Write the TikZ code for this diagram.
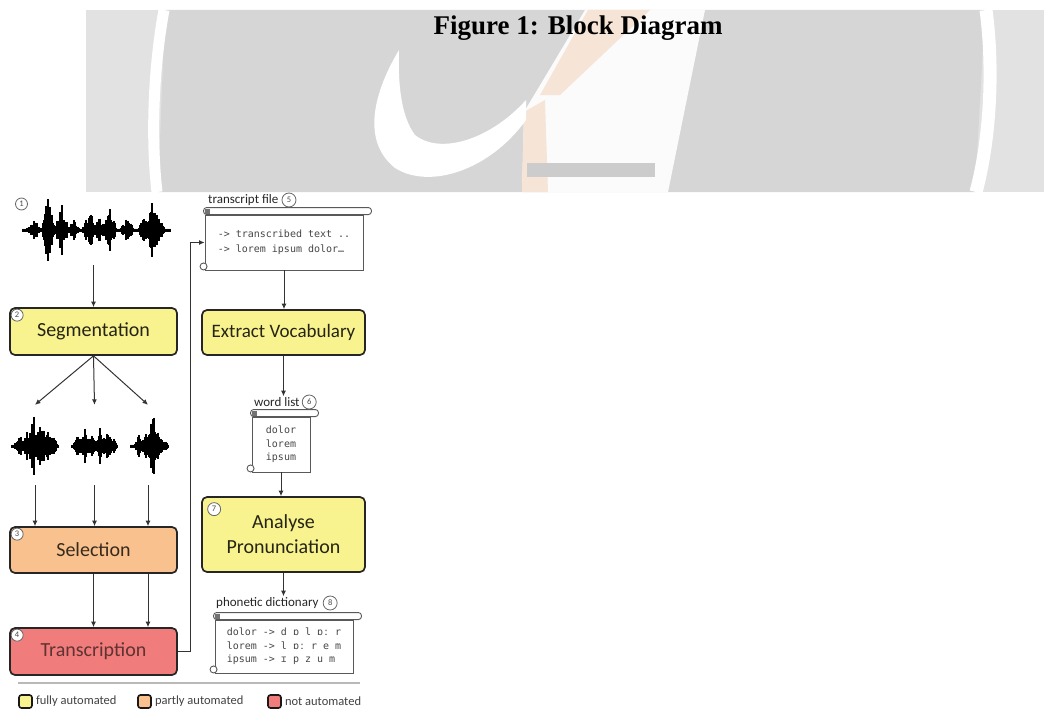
\documentclass[tikz,border=0pt]{standalone}
\usepackage{fontspec}
\setmainfont{Carlito}
\setmonofont{DejaVu Sans Mono}
\newfontfamily\titlefont{Liberation Serif}
\usepackage{xcolor}
\usepackage{tikz}
\usetikzlibrary{calc}
\usetikzlibrary{positioning,arrows.meta}

\definecolor{fullyc}{HTML}{F8F38E}
\definecolor{partlyc}{HTML}{F8C18D}
\definecolor{notc}{HTML}{F07C7C}
\definecolor{wmgray}{HTML}{D6D6D6}
\definecolor{wmlight}{HTML}{E2E2E2}
\definecolor{wmpeach}{HTML}{F6E4D6}

% speech signal: x from, x to, centre y, envelope in \xx
\newcommand{\speechwave}[4]{%
    \draw[line width=0.6pt] (#1,#3) -- (#2,#3);
    \foreach \xx in {#1,...,#2}{
        \pgfmathsetmacro{\amp}{1.5+(#4)*(0.3+0.7*rnd)}
        \draw[line width=1.2pt] (\xx,#3-\amp) -- (\xx,#3+\amp);
    }
}

% roll and curls of a file scroll
\newcommand{\scrollroll}[1]{%
    \draw[scrollline, fill=white, rounded corners=3pt] ($(#1.north west)+(-1,-7)$) rectangle ($(#1.north east)+(8,0)$);
    \fill[black!55] ($(#1.north west)+(0,-6)$) rectangle ++(5,5);
    \draw[scrollline, fill=white] ($(#1.south west)+(-1,-4)$) circle (3.5);
}

\begin{document}
\begin{tikzpicture}[x=1pt, y=-1pt,
        declare function={burst(\p,\c,\w,\a)=\a*max(0,1-abs(\p-\c)/\w);},
        stage/.style={draw=black!85, line width=1.7pt, rounded corners=5pt, minimum width=167pt,
            minimum height=47pt, inner sep=2pt, align=center, font=\fontsize{20}{25}\selectfont},
        fullybox/.style={stage, fill=fullyc, text=fullyc!15!black},
        partlybox/.style={stage, fill=partlyc, text=partlyc!22!black},
        notbox/.style={stage, fill=notc, text=notc!40!black},
        numcirc/.style={circle, draw=black!60, fill=white, line width=0.8pt, inner sep=0pt,
            minimum size=12pt, font=\fontsize{8.5}{8.5}\selectfont, text=black!70},
        scrollline/.style={draw=black!65, line width=0.9pt},
        scrollbox/.style={scrollline, fill=white, inner sep=0pt, align=left,
            font=\ttfamily\fontsize{10}{15}\selectfont, text=black!72},
        filelbl/.style={inner sep=1pt, font=\fontsize{13}{13}\selectfont, text=black!85},
        wavebox/.style={inner sep=0pt},
        flow/.style={draw=black!80, line width=1pt, -{Latex[length=5.5pt,width=5pt]}},
        legendsq/.style={draw=black!90, line width=1.6pt, rounded corners=2.5pt, minimum size=13pt, inner sep=0pt},
        legendtxt/.style={inner sep=1pt, font=\fontsize{12.5}{12.5}\selectfont, text=black!75}]
        \useasboundingbox (0,0) rectangle (1057,709);
        \pgfmathsetseed{17}

        %WATERMARK
        \begin{scope}
            \clip (0,10) rectangle (1057,192);
            \fill[wmlight] (86,10) rectangle (1044,192);
            \fill[wmgray] (165,10) -- (985,10) -- (975,192) -- (158,192) -- cycle;
            \draw[white, line width=11pt] (164,10) .. controls (153,70) and (151,140) .. (157,192);
            \draw[white, line width=13pt] (986,10) .. controls (994,70) and (990,140) .. (976,192);
            \fill[white!90!wmgray] (585,10) -- (705,10) -- (668,192) -- (522,192) -- (524,112) -- cycle;
            \fill[wmpeach] (588,10) -- (650,10) -- (560,95) -- (540,95) -- cycle;
            \fill[wmpeach] (524,112) -- (545,100) -- (548,192) -- (522,192) -- cycle;
            \fill[white] (399,50) .. controls (375,90) and (360,140) .. (395,168)
                .. controls (430,190) and (490,170) .. (526,120) -- (526,100)
                .. controls (490,140) and (440,155) .. (415,135)
                .. controls (400,115) and (398,80) .. (399,50) -- cycle;
            \fill[gray!40] (527,163) rectangle (655,177);
        \end{scope}

        %TITLE
        \node[font=\titlefont\bfseries\fontsize{27}{30}\selectfont, anchor=base] (title) at (578,35) {Figure 1: Block Diagram};

        %SIGNALS
        \node[wavebox, minimum width=147pt, minimum height=70pt] (wave0) at (96,230) {};
        \speechwave{23}{170}{230}{burst(\xx,34,8,9)+burst(\xx,47,5,33)+burst(\xx,52,6,16)+burst(\xx,62,7,24)+burst(\xx,74,6,9)+burst(\xx,90,8,18)+burst(\xx,100,5,12)+burst(\xx,110,7,20)+burst(\xx,127,7,12)+burst(\xx,144,6,12)+burst(\xx,153,6,32)+burst(\xx,160,5,14)}
        \node[numcirc] (n1) at (21.5,204) {1};

        \node[wavebox, minimum width=46pt, minimum height=80pt] (wave1) at (35,445) {};
        \node[wavebox, minimum width=45pt, minimum height=80pt] (wave2) at (94.5,445) {};
        \node[wavebox, minimum width=40pt, minimum height=80pt] (wave3) at (148,445) {};
        \speechwave{12}{58}{446}{burst(\xx,20,6,10)+burst(\xx,27,4,14)+burst(\xx,33,4,38)+burst(\xx,40,5,22)+burst(\xx,47,6,18)+burst(\xx,54,4,8)}
        \speechwave{72}{117}{446}{burst(\xx,78,5,10)+burst(\xx,85,5,16)+burst(\xx,92,4,10)+burst(\xx,100,5,20)+burst(\xx,108,5,14)+burst(\xx,114,3,6)}
        \speechwave{131}{168}{446}{burst(\xx,139,5,10)+burst(\xx,146,4,12)+burst(\xx,153,5,36)+burst(\xx,159,4,18)+burst(\xx,165,3,6)}

        %STAGES
        \node[fullybox] (seg) at (93.5,331.5) {Segmentation};
        \node[partlybox, minimum height=46pt] (sel) at (93.5,550) {Selection};
        \node[notbox] (trn) at (93.5,651.5) {Transcription};
        \node[fullybox, minimum width=163pt, minimum height=45pt, font=\fontsize{19}{23}\selectfont] (ext) at (283.5,332.5) {Extract Vocabulary};
        \node[fullybox, minimum width=163pt, minimum height=75pt] (ana) at (283.5,534.5) {Analyse\\Pronunciation};
        \node[numcirc] (n2) at ($(seg.north west)+(8,8)$) {2};
        \node[numcirc] (n3) at ($(sel.north west)+(8,8)$) {3};
        \node[numcirc] (n4) at ($(trn.north west)+(8,8)$) {4};
        \node[numcirc, minimum size=13pt] (n7) at ($(ana.north west)+(13,13)$) {7};

        %FILES
        \node[scrollbox, minimum width=158pt, minimum height=55pt] (trans) at (284,242.5) {-> transcribed text ..\\-> lorem ipsum dolor\ldots};
        \scrollroll{trans}
        \node[filelbl, anchor=west] (translbl) at (207,200) {transcript file};
        \node[numcirc, minimum size=14pt, right=2pt of translbl] (n5) {5};

        \node[scrollbox, minimum width=58pt, minimum height=55pt, font=\ttfamily\fontsize{10}{13.5}\selectfont] (wlist) at (281,444.5) {dolor\\lorem\\ipsum};
        \scrollroll{wlist}
        \node[filelbl, anchor=west] (wlistlbl) at (253,402) {word list};
        \node[numcirc, minimum size=14pt, right=1pt of wlistlbl] (n6) {6};

        \node[scrollbox, minimum width=138pt, minimum height=53pt, font=\ttfamily\fontsize{10}{13.5}\selectfont] (dict) at (284,646.5) {dolor -> d ɒ l ɒː r\\lorem -> l ɒː r e m\\ipsum -> ɪ p z u m};
        \scrollroll{dict}
        \node[filelbl, anchor=west] (dictlbl) at (215,603) {phonetic dictionary};
        \node[numcirc, minimum size=14pt, right=3pt of dictlbl] (n8) {8};

        %ARROWS
        \draw[flow] (wave0.south -| seg.north) -- (seg.north);
        \foreach \w in {wave1,wave2,wave3} \draw[flow] (seg.south) -- (\w.north);
        \foreach \w in {wave1,wave2,wave3} \draw[flow] (\w.south) -- (\w.south |- sel.north);
        \draw[flow] (sel.south) -- (trn.north);
        \draw[flow] (wave3.south |- sel.south) -- (wave3.south |- trn.north);
        \draw[flow] (trn.east) -- ++(13,0) |- (trans.west);
        \draw[flow] (trans.south) -- (trans.south |- ext.north);
        \draw[flow] (ext.south) -- (ext.south |- wlistlbl.north);
        \draw[flow] (wlist.south) -- (wlist.south |- ana.north);
        \draw[flow] (ana.south) -- (ana.south |- dictlbl.north);

        %LEGEND
        \draw[gray!55, line width=1.2pt] (18,683) -- (360,683);
        \node[legendsq, fill=fullyc] (lgfully) at (25.5,701.5) {};
        \node[legendtxt, right=2pt of lgfully] (lgfullytxt) {fully automated};
        \node[legendsq, fill=partlyc] (lgpartly) at (144.5,701.5) {};
        \node[legendtxt, right=2pt of lgpartly] (lgpartlytxt) {partly automated};
        \node[legendsq, fill=notc] (lgnot) at (274.5,701.5) {};
        \node[legendtxt, right=2pt of lgnot] (lgnottxt) {not automated};
\end{tikzpicture}
\end{document}
